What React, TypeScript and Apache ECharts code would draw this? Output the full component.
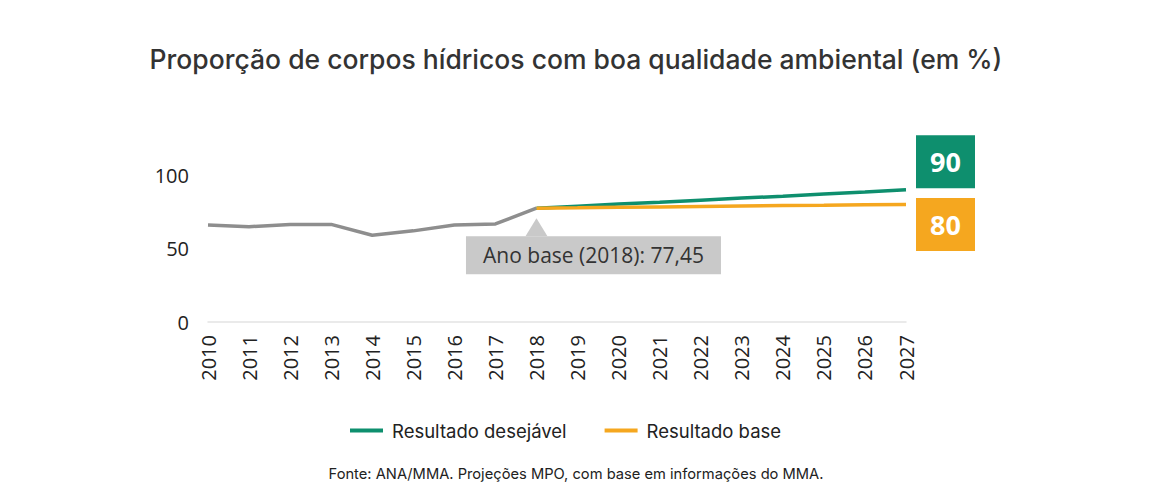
import React, { useEffect, useRef } from "react";
import * as echarts from "echarts";

const years = ["2010","2011","2012","2013","2014","2015","2016","2017","2018","2019","2020","2021","2022","2023","2024","2025","2026","2027"];
const historico = [66.0, 64.8, 66.3, 66.4, 59.0, 62.0, 66.0, 66.7, 77.45, null, null, null, null, null, null, null, null, null];
const desejavel = [null, null, null, null, null, null, null, null, 77.45, 78.8, 80.2, 81.5, 82.9, 84.3, 85.6, 87.0, 88.4, 90];
const base = [null, null, null, null, null, null, null, null, 77.45, 77.7, 78.0, 78.3, 78.6, 78.9, 79.2, 79.4, 79.7, 80];
const yTicks = { min: 0, max: 100, interval: 50 };
const baseYear = "2018";
const baseValue = 77.45;

const GREEN = "#0e8f6e";
const ORANGE = "#f5a71f";
const GRAY = "#8e8e8e";
const BOX = "#c9c9c9";
const AXIS_FONT = "'Open Sans', 'Noto Sans', sans-serif";
const TITLE_FONT = "Inter, 'Open Sans', sans-serif";

export default function App() {
  const ref = useRef<HTMLDivElement>(null);
  useEffect(() => {
    document.body.style.margin = "0";
    if (!ref.current) return;
    const chart = echarts.init(ref.current, undefined, { renderer: "svg" });
    const endLabel = (color: string, dy: number) => ({
      show: true,
      distance: 10,
      offset: [0, dy],
      formatter: (p: any) => `{v|${Math.round(p.value)}}`,
      backgroundColor: color,
      rich: {
        v: {
          width: 59,
          height: 53,
          lineHeight: 53,
          align: "center",
          color: "#fff",
          fontSize: 27,
          fontWeight: "bold",
          fontFamily: AXIS_FONT,
        },
      },
    });
    chart.setOption({
      animation: false,
      backgroundColor: "#fff",
      title: {
        text: "Proporção de corpos hídricos com boa qualidade ambiental (em %)",
        left: "center",
        top: 40,
        textStyle: { fontFamily: TITLE_FONT, fontSize: 26.5, fontWeight: 500, color: "#333" },
      },
      legend: {
        bottom: 55,
        left: 345,
        data: ["Resultado desejável", "Resultado base"],
        icon: "rect",
        itemWidth: 33,
        itemHeight: 4,
        itemGap: 38,
        textStyle: { fontFamily: TITLE_FONT, fontSize: 18.5, color: "#222", padding: [0, 0, 0, 4] },
      },
      graphic: [
        {
          type: "text",
          left: "center",
          top: 466,
          style: {
            text: "Fonte: ANA/MMA. Projeções MPO, com base em informações do MMA.",
            fontFamily: TITLE_FONT,
            fontSize: 14.7,
            fill: "#222",
          },
        },
      ],
      grid: { left: 208, right: 246, top: 175, bottom: 178 },
      xAxis: {
        type: "category",
        data: years,
        boundaryGap: false,
        axisLine: { lineStyle: { color: "#e3e3e3", width: 1.5 } },
        axisTick: { show: false },
        axisLabel: { rotate: 90, margin: 13, fontSize: 20, color: "#222", fontFamily: AXIS_FONT },
      },
      yAxis: {
        type: "value",
        min: yTicks.min,
        max: yTicks.max,
        interval: yTicks.interval,
        splitLine: { show: false },
        axisLine: { show: false },
        axisTick: { show: false },
        axisLabel: { margin: 19, fontSize: 20, color: "#222", fontFamily: AXIS_FONT },
      },
      series: [
        {
          name: "Histórico",
          type: "line",
          data: historico,
          showSymbol: false,
          symbol: "none",
          lineStyle: { color: GRAY, width: 3.5 },
          itemStyle: { color: GRAY },
          markPoint: {
            symbol: "triangle",
            symbolSize: [22, 18],
            symbolOffset: [0, 19],
            itemStyle: { color: BOX },
            data: [{ coord: [baseYear, baseValue] }],
            label: {
              show: true,
              position: "bottom",
              distance: 0,
              offset: [57, 0],
              formatter: `Ano base (${baseYear}): ${String(baseValue).replace(".", ",")}`,
              backgroundColor: BOX,
              width: 255,
              height: 38,
              lineHeight: 38,
              align: "center",
              color: "#333",
              fontSize: 21,
              fontFamily: AXIS_FONT,
            },
          },
        },
        {
          name: "Resultado desejável",
          type: "line",
          data: desejavel,
          showSymbol: false,
          symbol: "none",
          lineStyle: { color: GREEN, width: 3.5 },
          itemStyle: { color: GREEN },
          endLabel: endLabel(GREEN, -28),
        },
        {
          name: "Resultado base",
          type: "line",
          data: base,
          showSymbol: false,
          symbol: "none",
          lineStyle: { color: ORANGE, width: 3.5 },
          itemStyle: { color: ORANGE },
          endLabel: endLabel(ORANGE, 20),
        },
      ],
    });
    return () => chart.dispose();
  }, []);
  return <div ref={ref} style={{ width: 1152, height: 500 }} />;
}
